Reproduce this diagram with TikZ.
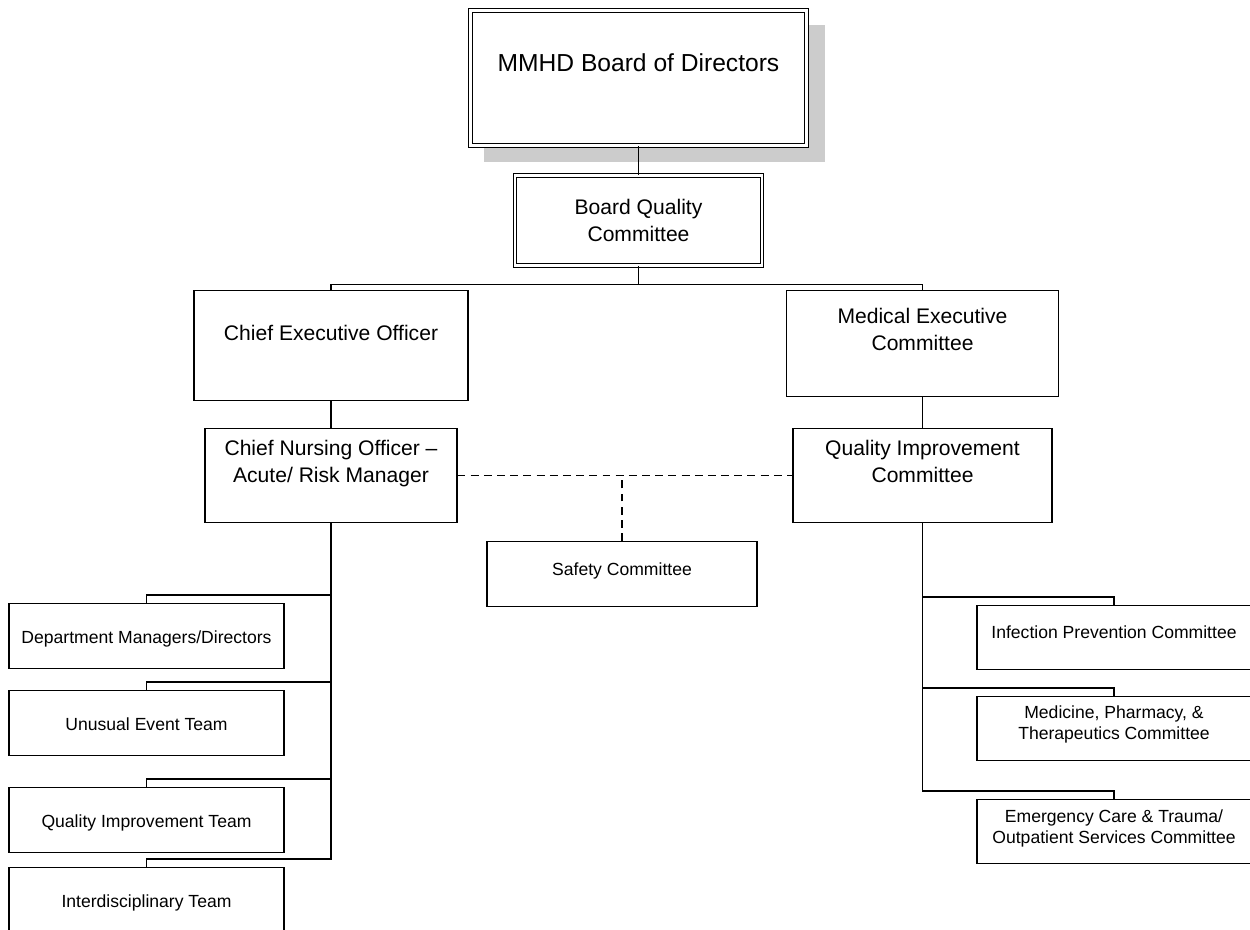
\documentclass[tikz,border=0pt]{standalone}
\usepackage{fontspec}
\setmainfont{Liberation Sans}
\usetikzlibrary{positioning,shadows}

\begin{document}
\begin{tikzpicture}[
  unit/.style={draw,fill=white,line width=0.6pt,inner sep=0pt,anchor=north,align=center,
    font=\fontsize{12}{15}\selectfont},
  topunit/.style={unit,double,double distance=1.3pt},
  small/.style={font=\fontsize{10}{12}\selectfont},
  team/.style={unit,small,minimum width=5.50cm,text height=0.80cm,text depth=0.50cm},
  cmte/.style={unit,small,minimum width=5.48cm},
  link/.style={line width=0.6pt},
  staff/.style={link,dash pattern=on 4.5pt off 3pt}]
  \useasboundingbox (0,0) rectangle (25,-18.6);
  \clip (0,0) rectangle (25,-18.6);
  \node[topunit,font=\fontsize{14}{17}\selectfont,minimum width=6.72cm,text height=1.22cm,text depth=1.48cm,
    general shadow={fill=black!20,draw=none,shadow scale=1.015,shadow xshift=0.32cm,shadow yshift=-0.30cm}] (board) at (12.77,-0.20) {MMHD Board of Directors};
  \node[topunit,minimum width=4.94cm,text height=1.31cm,text depth=0.49cm] (bqc) at (12.77,-3.50) {Board Quality\\Committee};
  \coordinate[below=0.36cm of bqc] (bus);
  \node[unit,minimum width=5.48cm,text height=1.00cm,text depth=1.20cm] (ceo) at (6.62,-5.80) {Chief Executive Officer};
  \node[unit,minimum width=5.44cm,text height=1.19cm,text depth=0.93cm] (mec) at (18.45,-5.80) {Medical Executive\\Committee};
  \node[unit,minimum width=5.04cm,text height=1.07cm,text depth=0.81cm] (cno) at (6.62,-8.56) {Chief Nursing Officer –\\Acute/ Risk Manager};
  \node[unit,minimum width=5.18cm,text height=1.07cm,text depth=0.81cm] (qic) at (18.45,-8.56) {Quality Improvement\\Committee};
  \node[unit,small,minimum width=5.40cm,text height=0.68cm,text depth=0.62cm] (safety) at (12.44,-10.82) {Safety Committee};
  \node[team] (dept) at (2.93,-12.06) {Department Managers/Directors};
  \node[team] (unusual) at (2.93,-13.80) {Unusual Event Team};
  \node[team] (qit) at (2.93,-15.74) {Quality Improvement Team};
  \node[team] (inter) at (2.93,-17.34) {Interdisciplinary Team};
  \node[cmte,text height=0.66cm,text depth=0.62cm] (infect) at (22.28,-12.10) {Infection Prevention Committee};
  \node[cmte,text height=0.86cm,text depth=0.42cm] (pharm) at (22.28,-13.92) {Medicine, Pharmacy, \&\\Therapeutics Committee};
  \node[cmte,text height=0.88cm,text depth=0.40cm] (trauma) at (22.28,-15.98) {Emergency Care \& Trauma/\\Outpatient Services Committee};
  \draw[link] (board) -- (bqc);
  \draw[link] (bqc) -- (bus);
  \draw[link] (ceo.north) |- (bus) -| (mec.north);
  \draw[link] (ceo) -- (cno);
  \draw[link] (mec) -- (qic);
  \draw[staff] (cno.east) -- (qic.west);
  \draw[staff] (safety.north) -- (safety.north |- cno.east);
  \foreach \t in {dept,unusual,qit,inter}
    \draw[link] (cno.south) |- ([yshift=0.16cm]\t.north) -- (\t.north);
  \foreach \c in {infect,pharm,trauma}
    \draw[link] (qic.south) |- ([yshift=0.16cm]\c.north) -- (\c.north);
\end{tikzpicture}
\end{document}
